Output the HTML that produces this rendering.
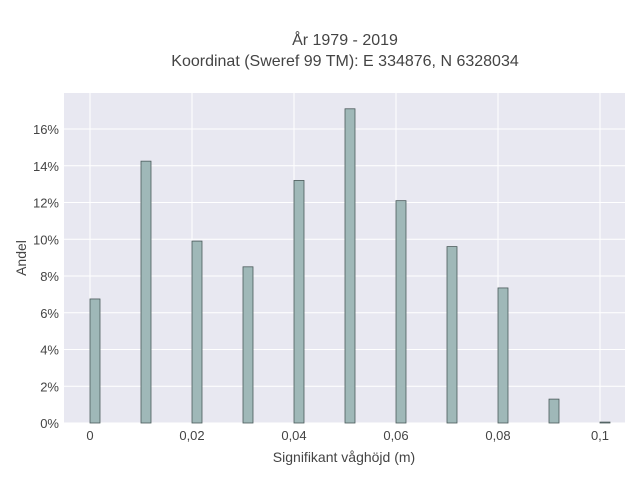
<!DOCTYPE html>
<html><head><meta charset="utf-8"><style>
body{margin:0;background:#fff;font-family:"Liberation Sans",sans-serif;}
svg text{font-family:"Liberation Sans",sans-serif;fill:#444;}
</style></head><body>
<svg id="chart" width="640" height="480">
<text x="345" y="45" text-anchor="middle" font-size="16" fill="#333">År 1979 - 2019</text>
<text x="345" y="66" text-anchor="middle" font-size="16" fill="#333">Koordinat (Sweref 99 TM): E 334876, N 6328034</text>
<rect x="64" y="93" width="561" height="330" fill="#e8e8f1"/>
<g id="grid"></g><g id="bars"></g><g id="xt"></g><g id="yt"></g>
<text x="344" y="462" text-anchor="middle" font-size="14">Signifikant våghöjd (m)</text>
<text x="26" y="258" text-anchor="middle" font-size="14" transform="rotate(-90 26 258)">Andel</text>
</svg>
<script>
const binStarts=[0,0.01,0.02,0.03,0.04,0.05,0.06,0.07,0.08,0.09,0.1];
const shares=[6.75,14.25,9.9,8.5,13.2,17.1,12.1,9.6,7.35,1.3,0.05];
const xTicks=[0,0.02,0.04,0.06,0.08,0.1];
const xTickLabels=["0","0,02","0,04","0,06","0,08","0,1"];
const yTicks=[0,2,4,6,8,10,12,14,16];
const binWidth=0.00196;
const X=v=>90+v*5100, Y=v=>423-v*18.375;
const ns="http://www.w3.org/2000/svg";
const mk=(p,t,a)=>{const e=document.createElementNS(ns,t);for(const k in a)e.setAttribute(k,a[k]);document.getElementById(p).appendChild(e);return e;};
xTicks.forEach((t,i)=>{
 const g=mk('grid','line',{x1:X(t),x2:X(t),y1:93,y2:423,stroke:'#fff','stroke-width':1});
 
 
 const l=mk('xt','text',{x:X(t),y:440,'text-anchor':'middle','font-size':13});
 l.textContent=xTickLabels[i];
 
 
});
yTicks.forEach(t=>{
 const g=mk('grid','line',{x1:64,x2:625,y1:Y(t),y2:Y(t),stroke:'#fff','stroke-width':1});
 
 
 const l=mk('yt','text',{x:59,y:Y(t)+5,'text-anchor':'end','font-size':13});
 l.textContent=t+'%';
 
 
});
binStarts.forEach((b,i)=>{
 const x0=X(b),x1=X(b+binWidth),y=Y(shares[i]);
 const r=mk('bars','rect',{x:x0,y:y,width:x1-x0,height:423-y,fill:'#9fb8b8',stroke:'#4a5a5a','stroke-width':0.8});
 
 
});
</script>
</body></html>
